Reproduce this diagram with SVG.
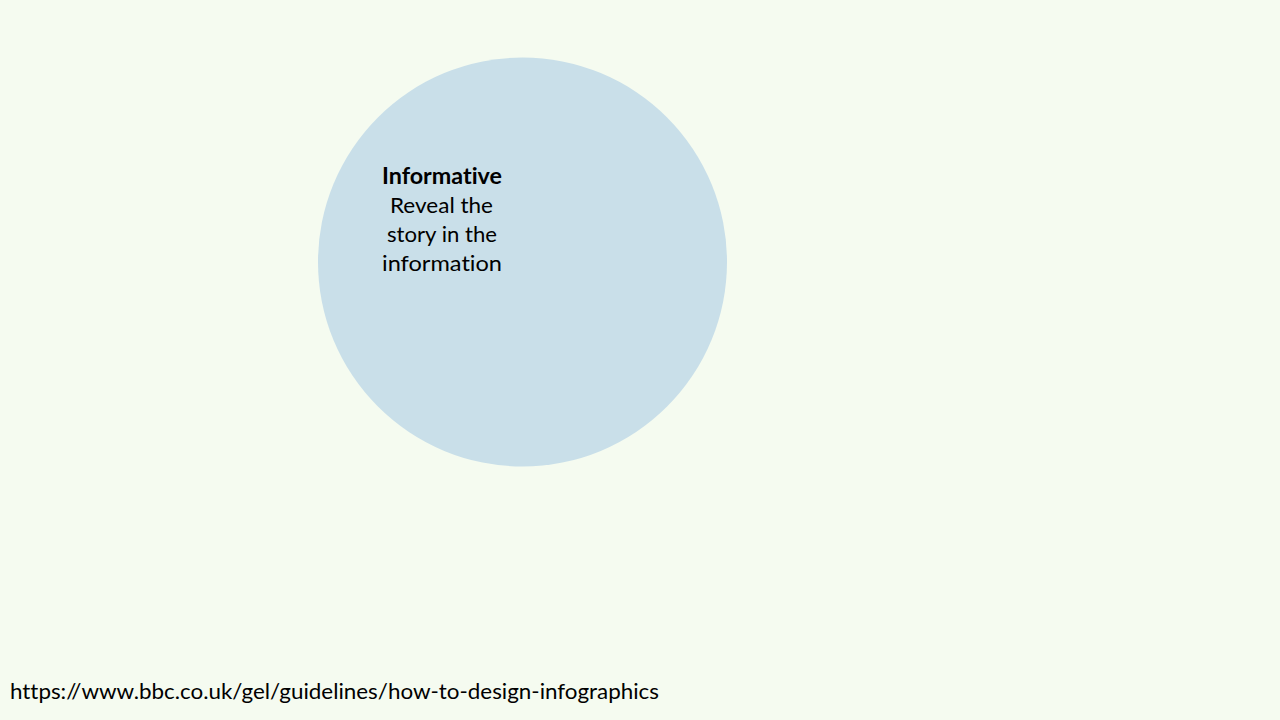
<svg xmlns="http://www.w3.org/2000/svg" width="1280" height="720" viewBox="0 0 1280 720">
  <style>
    .t { font-family: Lato, "Liberation Sans", sans-serif; font-size: 22px; fill: #000; font-variant-ligatures: none; }
    .b { font-weight: bold; }
  </style>
  <rect width="1280" height="720" fill="#F5FBF0"/>
  <g id="informative">
    <circle cx="522.5" cy="262" r="204.5" fill="#C9DFE9"/>
    <text class="t b" x="382" y="184" textLength="120" lengthAdjust="spacingAndGlyphs">Informative</text>
    <text class="t" x="390" y="213" textLength="103" lengthAdjust="spacingAndGlyphs">Reveal the</text>
    <text class="t" x="387" y="242" textLength="110" lengthAdjust="spacingAndGlyphs">story in the</text>
    <text class="t" x="382" y="271" textLength="120" lengthAdjust="spacingAndGlyphs">information</text>
  </g>
  <g id="source">
    <text class="t" x="10" y="699" textLength="649" lengthAdjust="spacingAndGlyphs">https://www.bbc.co.uk/gel/guidelines/how-to-design-infographics</text>
  </g>
</svg>
